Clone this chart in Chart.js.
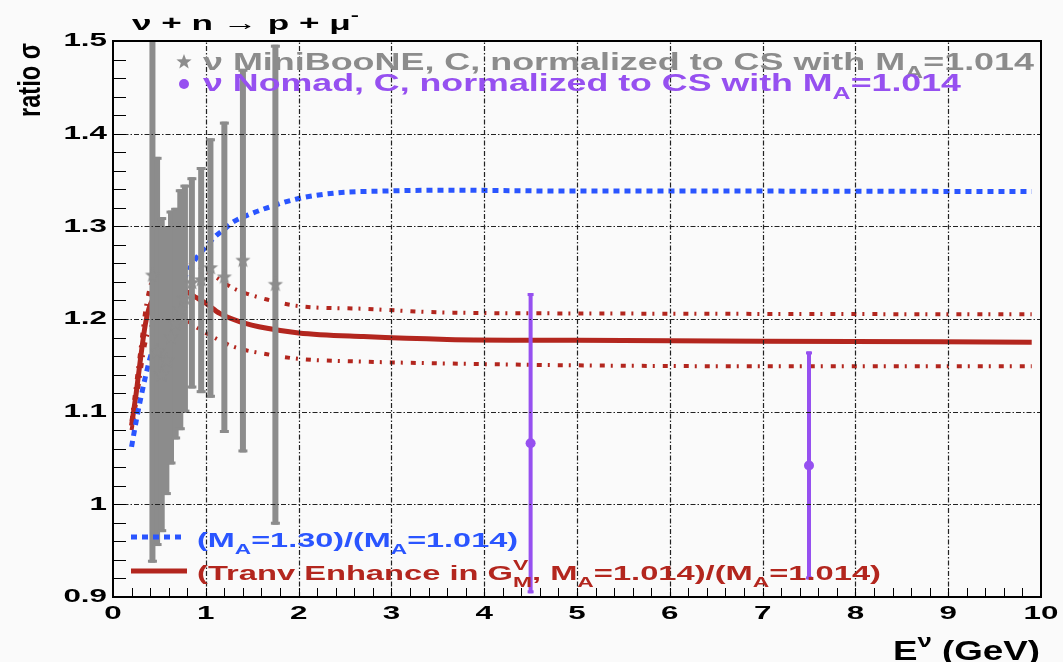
<!DOCTYPE html>
<html>
<head>
<meta charset="utf-8">
<script src="https://cdn.jsdelivr.net/npm/chart.js@4.4.1/dist/chart.umd.min.js"></script>
<style>
  html, body { margin: 0; padding: 0; background: #fafafa; }
  #myChart { display: block; }
</style>
</head>
<body>
<canvas id="myChart" width="1063" height="662"></canvas>
<script>
// MiniBooNE points (E in GeV, ratio, error)
var mbE     = [0.425, 0.475, 0.525, 0.575, 0.625, 0.675, 0.725, 0.775, 0.85, 0.95, 1.05, 1.2, 1.4, 1.75];
var mbRatio = [1.247, 1.165, 1.14, 1.155, 1.18, 1.195, 1.21, 1.222, 1.239, 1.242, 1.255, 1.245, 1.263, 1.237];
var mbErr   = [0.31, 0.21, 0.17, 0.145, 0.137, 0.125, 0.13, 0.123, 0.114, 0.122, 0.14, 0.168, 0.207, 0.259];

// Nomad points
var nomadE     = [4.5, 7.5];
var nomadRatio = [1.066, 1.042];
var nomadErr   = [0.162, 0.123];

// (M_A=1.30)/(M_A=1.014)
var blueE = [0.2, 0.25, 0.3, 0.35, 0.4, 0.47, 0.54, 0.62, 0.7, 0.8, 0.9, 1.0, 1.1, 1.2, 1.3, 1.5, 1.75, 2.0, 2.4, 2.9, 3.6, 5, 7, 9.9];
var blueR = [1.062, 1.09, 1.115, 1.138, 1.158, 1.178, 1.195, 1.213, 1.23, 1.25, 1.266, 1.278, 1.289, 1.297, 1.305, 1.314, 1.323, 1.330, 1.336, 1.338, 1.339, 1.338, 1.338, 1.3375];

// transverse enhancement, central and band
var tranvE = [0.2, 0.25, 0.3, 0.35, 0.4, 0.5, 0.6, 0.7, 0.8, 0.9, 1.0, 1.15, 1.37, 1.66, 2.0, 2.7, 3.6, 5, 7, 9.9];
var tranvR = [1.085, 1.12, 1.16, 1.195, 1.215, 1.228, 1.232, 1.232, 1.229, 1.223, 1.217, 1.206, 1.197, 1.19, 1.185, 1.181, 1.178, 1.177, 1.176, 1.175];
var upperE = [0.2, 0.25, 0.3, 0.35, 0.4, 0.5, 0.6, 0.7, 0.8, 0.9, 1.05, 1.3, 1.66, 2.0, 2.7, 3.6, 5, 7, 9.9];
var upperR = [1.09, 1.13, 1.17, 1.21, 1.235, 1.255, 1.262, 1.263, 1.262, 1.258, 1.249, 1.233, 1.221, 1.214, 1.211, 1.207, 1.206, 1.2055, 1.205];
var lowerE = [0.2, 0.25, 0.3, 0.35, 0.4, 0.5, 0.6, 0.7, 0.8, 0.9, 1.0, 1.3, 1.66, 2.0, 2.7, 3.6, 5, 7, 9.9];
var lowerR = [1.08, 1.11, 1.145, 1.175, 1.19, 1.2, 1.203, 1.202, 1.198, 1.191, 1.185, 1.17, 1.162, 1.157, 1.154, 1.152, 1.15, 1.149, 1.149];

var xTickLabels = ['0', '1', '2', '3', '4', '5', '6', '7', '8', '9', '10'];
var yTickLabels = ['0.9', '1', '1.1', '1.2', '1.3', '1.4', '1.5'];

var GRAY = '#8c8c8c', PURPLE = '#9650f0', BLUE = '#2a55ff', RED = '#b3261e';
var FONT = '"Liberation Sans", Arial, sans-serif';

function pts(xs, ys) {
  return xs.map(function (x, i) { return { x: x, y: ys[i] }; });
}

// filled 5 point star like ROOT marker 29
function makeStar(r, color) {
  var c = document.createElement('canvas');
  c.width = c.height = 2 * r + 2;
  var g = c.getContext('2d');
  g.fillStyle = color;
  g.beginPath();
  for (var k = 0; k < 10; k++) {
    var rad = k % 2 ? r * 0.42 : r;
    var a = -Math.PI / 2 + k * Math.PI / 5;
    g.lineTo(r + 1 + rad * Math.cos(a), r + 1 + rad * Math.sin(a));
  }
  g.closePath();
  g.fill();
  return c;
}
var starImg = makeStar(8, GRAY);

// text pieces: [string, 'sub'|'sup'|'', noAdvance]
function richWidth(ctx, parts, size, weight) {
  var w = 0;
  parts.forEach(function (p) {
    var fs = p[1] ? size * 0.7 : size;
    ctx.font = weight + ' ' + fs + 'px ' + FONT;
    if (!p[2]) w += ctx.measureText(p[0]).width;
  });
  return w;
}
function richText(ctx, parts, x, y, size, weight, color, width) {
  var sx = width / richWidth(ctx, parts, size, weight);
  var cx = x;
  ctx.save();
  ctx.fillStyle = color;
  ctx.textBaseline = 'alphabetic';
  ctx.textAlign = 'left';
  parts.forEach(function (p) {
    var fs = p[1] ? size * 0.7 : size;
    var dy = p[1] === 'sub' ? size * 0.32 : (p[1] === 'sup' ? -size * 0.5 : 0);
    ctx.font = weight + ' ' + fs + 'px ' + FONT;
    var w = ctx.measureText(p[0]).width * sx;
    ctx.save();
    ctx.translate(cx, y + dy);
    ctx.scale(sx, 1);
    ctx.fillText(p[0], 0, 0);
    ctx.restore();
    if (!p[2]) cx += w;
  });
  ctx.restore();
}

// dash-dot grid like ROOT
function drawGrid(chart) {
  var ctx = chart.ctx, xs = chart.scales.x, ys = chart.scales.y, a = chart.chartArea;
  ctx.save();
  ctx.strokeStyle = '#222';
  ctx.lineWidth = 1.2;
  ctx.setLineDash([5, 2, 1.5, 2]);
  ctx.beginPath();
  xTickLabels.slice(1, -1).forEach(function (t) {
    var px = Math.round(xs.getPixelForValue(parseFloat(t))) + 0.5;
    ctx.moveTo(px, a.bottom);
    ctx.lineTo(px, a.top);
  });
  yTickLabels.slice(1, -1).forEach(function (t) {
    var py = Math.round(ys.getPixelForValue(parseFloat(t))) + 0.5;
    ctx.moveTo(a.left, py);
    ctx.lineTo(a.right, py);
  });
  ctx.stroke();
  ctx.restore();
}

var errorBars = {
  id: 'errorBars',
  beforeDatasetDraw: function (chart, args) {
    var ds = chart.data.datasets[args.index];
    if (!ds.errors) return;
    var ctx = chart.ctx, xs = chart.scales.x, ys = chart.scales.y, a = chart.chartArea;
    ctx.save();
    ctx.beginPath();
    ctx.rect(a.left, a.top, a.right - a.left, a.bottom - a.top);
    ctx.clip();
    ctx.fillStyle = ds.errColor;
    ds.data.forEach(function (p, i) {
      var px = xs.getPixelForValue(p.x);
      var top = ys.getPixelForValue(p.y + ds.errors[i]);
      var bot = ys.getPixelForValue(p.y - ds.errors[i]);
      ctx.fillRect(px - ds.errWidth / 2, top, ds.errWidth, bot - top);
      ctx.fillRect(px - ds.capWidth / 2, top, ds.capWidth, 3);
      ctx.fillRect(px - ds.capWidth / 2, bot - 3, ds.capWidth, 3);
    });
    ctx.restore();
  }
};

var decorations = {
  id: 'decorations',
  afterDraw: function (chart) {
    var ctx = chart.ctx, xs = chart.scales.x, ys = chart.scales.y, a = chart.chartArea;
    drawGrid(chart);
    ctx.save();
    // minor ticks, pointing inwards
    ctx.strokeStyle = '#000';
    ctx.lineWidth = 1;
    ctx.beginPath();
    for (var k = 0; k <= 30; k++) {
      var py = Math.round(ys.getPixelForValue(0.9 + k * 0.02)) + 0.5;
      ctx.moveTo(a.left, py); ctx.lineTo(a.left + 13, py);
    }
    for (var j = 0; j <= 50; j++) {
      var px = Math.round(xs.getPixelForValue(j * 0.2)) + 0.5;
      ctx.moveTo(px, a.bottom); ctx.lineTo(px, a.bottom - 9);
    }
    ctx.stroke();
    // frame
    ctx.lineWidth = 2;
    ctx.strokeRect(a.left, a.top, a.right - a.left, a.bottom - a.top);

    // tick labels
    ctx.fillStyle = '#000';
    ctx.font = 'bold 19px ' + FONT;
    ctx.textBaseline = 'middle';
    yTickLabels.forEach(function (t) {
      var w = ctx.measureText(t).width * 1.65;
      var py = ys.getPixelForValue(parseFloat(t));
      ctx.save(); ctx.translate(107 - w, py); ctx.scale(1.65, 1); ctx.fillText(t, 0, 0); ctx.restore();
    });
    ctx.textBaseline = 'top';
    xTickLabels.forEach(function (t) {
      var w = ctx.measureText(t).width * 1.65;
      var px = xs.getPixelForValue(parseFloat(t));
      ctx.save(); ctx.translate(px - w / 2, 604); ctx.scale(1.65, 1); ctx.fillText(t, 0, 0); ctx.restore();
    });

    // axis titles and reaction
    richText(ctx, [['E', ''], ['\u03bd', 'sup'], [' (GeV)', '']], 893, 660, 27, 'bold', '#000', 147);
    richText(ctx, [['\u03bd + n \u2192 p + \u03bc', ''], ['-', 'sup']], 132, 30, 21, 'bold', '#000', 227);
    ctx.save();
    ctx.translate(40, 117);
    ctx.rotate(-Math.PI / 2);
    richText(ctx, [['ratio \u03c3', '']], 0, 0, 31, 'bold', '#000', 74);
    ctx.restore();

    // top legend
    ctx.drawImage(starImg, 184 - 9, 62 - 9);
    richText(ctx, [['\u03bd MiniBooNE, C, normalized to CS with M', ''], ['A', 'sub'], ['=1.014', '']], 203, 70, 24, 'bold', GRAY, 831);
    ctx.fillStyle = PURPLE;
    ctx.beginPath(); ctx.arc(184, 84, 5, 0, 2 * Math.PI); ctx.fill();
    richText(ctx, [['\u03bd Nomad, C, normalized to CS with M', ''], ['A', 'sub'], ['=1.014', '']], 203, 91, 24, 'bold', PURPLE, 758);

    // bottom legend
    ctx.lineWidth = 5;
    ctx.strokeStyle = BLUE;
    ctx.setLineDash([6, 5]);
    ctx.beginPath(); ctx.moveTo(131, 537); ctx.lineTo(186, 537); ctx.stroke();
    ctx.setLineDash([]);
    ctx.strokeStyle = RED;
    ctx.beginPath(); ctx.moveTo(131, 571); ctx.lineTo(187, 571); ctx.stroke();
    richText(ctx, [['(M', ''], ['A', 'sub'], ['=1.30)/(M', ''], ['A', 'sub'], ['=1.014)', '']], 197, 547, 21, 'bold', BLUE, 321);
    richText(ctx, [['(Tranv Enhance in G', ''], ['V', 'sup', true], ['M', 'sub'], [', M', ''], ['A', 'sub'], ['=1.014)/(M', ''], ['A', 'sub'], ['=1.014)', '']], 197, 580, 21, 'bold', RED, 684);
    ctx.restore();
  }
};

var ctx = document.getElementById('myChart').getContext('2d');
var myChart = new Chart(ctx, {
  type: 'scatter',
  data: {
    datasets: [{
        label: 'Nomad',
        data: pts(nomadE, nomadRatio),
        errors: nomadErr, errColor: PURPLE, errWidth: 4, capWidth: 6,
        pointStyle: 'circle', pointRadius: 5,
        backgroundColor: PURPLE, borderWidth: 0
      }, {
        label: 'MiniBooNE',
        data: pts(mbE, mbRatio),
        errors: mbErr, errColor: GRAY, errWidth: 6, capWidth: 9,
        pointStyle: starImg, pointRadius: 8,
        backgroundColor: GRAY, borderWidth: 0
      }, {
        label: '(MA=1.30)/(MA=1.014)',
        data: pts(blueE, blueR),
        showLine: true, pointRadius: 0,
        borderColor: BLUE, borderWidth: 5, borderDash: [6, 5],
        cubicInterpolationMode: 'monotone'
      }, {
        label: 'Tranv',
        data: pts(tranvE, tranvR),
        showLine: true, pointRadius: 0,
        borderColor: RED, borderWidth: 5,
        cubicInterpolationMode: 'monotone'
      }, {
        label: 'Tranv upper',
        data: pts(upperE, upperR),
        showLine: true, pointRadius: 0,
        borderColor: RED, borderWidth: 4, borderDash: [5, 6, 2, 8],
        cubicInterpolationMode: 'monotone'
      }, {
        label: 'Tranv lower',
        data: pts(lowerE, lowerR),
        showLine: true, pointRadius: 0,
        borderColor: RED, borderWidth: 4, borderDash: [5, 6, 2, 8],
        cubicInterpolationMode: 'monotone'
      }
    ]
  },
  options: {
    responsive: false,
    animation: false,
    devicePixelRatio: 1,
    layout: { padding: { left: 113, top: 41, right: 22, bottom: 65 } },
    plugins: {
      legend: { display: false },
      tooltip: { enabled: false }
    },
    scales: {
      x: {
        type: 'linear', min: 0, max: 10,
        ticks: { display: false, stepSize: 1 },
        grid: { display: false },
        border: { display: true, color: '#000', width: 2 },
        afterFit: function (s) { s.height = 0; }
      },
      y: {
        min: 0.9, max: 1.5,
        ticks: { display: false, stepSize: 0.1 },
        grid: { display: false },
        border: { display: true, color: '#000', width: 2 },
        afterFit: function (s) { s.width = 0; }
      }
    }
  },
  plugins: [errorBars, decorations]
});
</script>
</body>
</html>
